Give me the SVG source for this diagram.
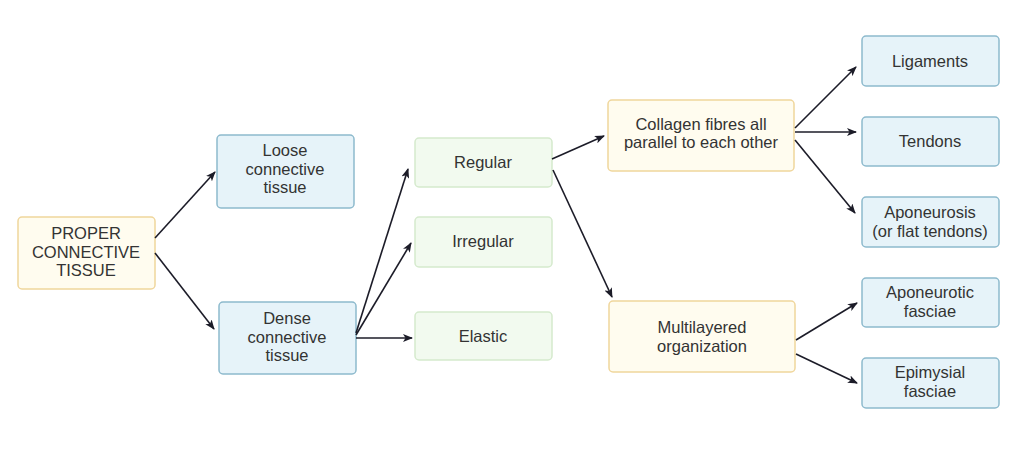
<svg xmlns="http://www.w3.org/2000/svg" width="1024" height="453" viewBox="0 0 1024 453">
<style>
.y{fill:#fffcef;stroke:#f0d69c;stroke-width:1.5}
.b{fill:#e6f3f9;stroke:#8dbacd;stroke-width:1.5}
.g{fill:#f2faef;stroke:#d5eacd;stroke-width:1.5}
text{font-family:"Liberation Sans",Arial,sans-serif;font-size:16.5px;fill:#333;text-anchor:middle}
.c line{stroke:#1c1c28;stroke-width:1.6;marker-end:url(#a)}
</style>
<defs>
<marker id="a" viewBox="0 0 10 8" refX="9" refY="4" markerWidth="10" markerHeight="8" markerUnits="userSpaceOnUse" orient="auto">
<path d="M0,0 L10,4 L0,8 L2.5,4 Z" fill="#1c1c28"/>
</marker>
</defs>
<rect width="1024" height="453" fill="#fff"/>
<g id="proper"><rect class="y" x="18" y="217" width="137" height="72" rx="4"/><text x="86" y="239">PROPER</text><text x="86" y="258">CONNECTIVE</text><text x="86" y="276">TISSUE</text></g>
<g id="loose"><rect class="b" x="217" y="135" width="137" height="73" rx="4"/><text x="285" y="156">Loose</text><text x="285" y="175">connective</text><text x="285" y="193">tissue</text></g>
<g id="dense"><rect class="b" x="219" y="302" width="137" height="72" rx="4"/><text x="287" y="324">Dense</text><text x="287" y="343">connective</text><text x="287" y="361">tissue</text></g>
<g id="regular"><rect class="g" x="415" y="138" width="137" height="49" rx="4"/><text x="483" y="168">Regular</text></g>
<g id="irregular"><rect class="g" x="415" y="217" width="137" height="50" rx="4"/><text x="483" y="247">Irregular</text></g>
<g id="elastic"><rect class="g" x="415" y="312" width="137" height="48" rx="4"/><text x="483" y="342">Elastic</text></g>
<g id="collagen"><rect class="y" x="608" y="100" width="186" height="71" rx="4"/><text x="701" y="130">Collagen fibres all</text><text x="701" y="148">parallel to each other</text></g>
<g id="multi"><rect class="y" x="609" y="301" width="186" height="71" rx="4"/><text x="702" y="333">Multilayered</text><text x="702" y="352">organization</text></g>
<g id="ligaments"><rect class="b" x="862" y="36" width="137" height="50" rx="4"/><text x="930" y="67">Ligaments</text></g>
<g id="tendons"><rect class="b" x="862" y="117" width="137" height="49" rx="4"/><text x="930" y="147">Tendons</text></g>
<g id="aponeurosis"><rect class="b" x="862" y="197" width="137" height="50" rx="4"/><text x="930" y="218">Aponeurosis</text><text x="930" y="237">(or flat tendons)</text></g>
<g id="aponeurotic"><rect class="b" x="862" y="278" width="137" height="49" rx="4"/><text x="930" y="298">Aponeurotic</text><text x="930" y="317">fasciae</text></g>
<g id="epimysial"><rect class="b" x="862" y="358" width="137" height="50" rx="4"/><text x="930" y="378">Epimysial</text><text x="930" y="397">fasciae</text></g>
<g class="c" id="connectors">
<line x1="155" y1="238" x2="215" y2="172"/>
<line x1="155" y1="253" x2="214" y2="329"/>
<line x1="356" y1="333" x2="408" y2="169"/>
<line x1="356" y1="335" x2="411" y2="243"/>
<line x1="356" y1="338" x2="412" y2="338"/>
<line x1="552" y1="159" x2="604" y2="136"/>
<line x1="553" y1="170" x2="612" y2="297"/>
<line x1="795" y1="128" x2="856" y2="67"/>
<line x1="795" y1="132" x2="856" y2="132"/>
<line x1="795" y1="140" x2="855" y2="213"/>
<line x1="796" y1="340" x2="857" y2="303"/>
<line x1="796" y1="354" x2="857" y2="383"/>
</g>
</svg>
